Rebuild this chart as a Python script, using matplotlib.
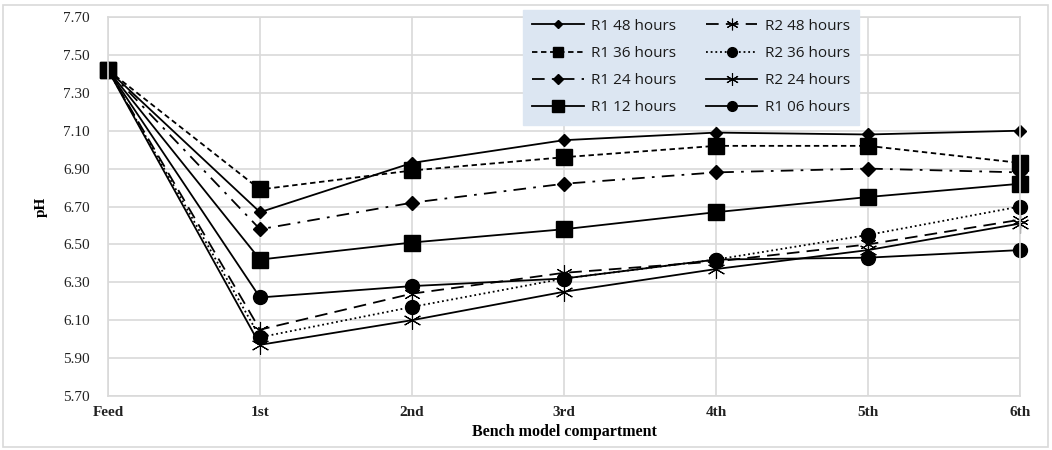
import matplotlib
matplotlib.use("Agg")
import matplotlib.pyplot as plt
from matplotlib.patches import Rectangle
import numpy as np

categories = ["Feed", "1st", "2nd", "3rd", "4th", "5th", "6th"]
r1_48 = [7.42, 6.67, 6.93, 7.05, 7.09, 7.08, 7.10]
r1_36 = [7.42, 6.79, 6.89, 6.96, 7.02, 7.02, 6.93]
r1_24 = [7.42, 6.58, 6.72, 6.82, 6.88, 6.90, 6.88]
r1_12 = [7.42, 6.42, 6.51, 6.58, 6.67, 6.75, 6.82]
r2_48 = [7.42, 6.05, 6.24, 6.35, 6.41, 6.50, 6.63]
r2_36 = [7.42, 6.01, 6.17, 6.32, 6.42, 6.55, 6.70]
r2_24 = [7.42, 5.97, 6.10, 6.25, 6.37, 6.47, 6.61]
r1_06 = [7.42, 6.22, 6.28, 6.32, 6.42, 6.43, 6.47]
yticks = [5.70, 5.90, 6.10, 6.30, 6.50, 6.70, 6.90, 7.10, 7.30, 7.50, 7.70]

fig = plt.figure(figsize=(10.52, 4.5), dpi=100)
ax = fig.add_axes([108/1052, 1-396/450, (1020-108)/1052, (396-17)/450])

x = np.arange(len(categories))
star = (6, 2, 0)
series = [
    ("R1 48 hours", r1_48, dict(linestyle="-", marker="D", markersize=6)),
    ("R1 36 hours", r1_36, dict(linestyle=(0, (3, 2)), marker="s", markersize=11)),
    ("R1 24 hours", r1_24, dict(linestyle=(0, (7, 4, 1.5, 4)), marker="D", markersize=7)),
    ("R1 12 hours", r1_12, dict(linestyle="-", marker="s", markersize=12)),
    ("R2 48 hours", r2_48, dict(linestyle=(0, (7, 4)), marker=star, markersize=12, markeredgewidth=0.8)),
    ("R2 36 hours", r2_36, dict(linestyle=(0, (1, 1.6)), marker="o", markersize=10)),
    ("R2 24 hours", r2_24, dict(linestyle="-", marker=star, markersize=13, markeredgewidth=0.8)),
    ("R1 06 hours", r1_06, dict(linestyle="-", marker="o", markersize=10)),
]
handles = {}
for name, vals, kw in series:
    h, = ax.plot(x, vals, color="black", linewidth=1.3, clip_on=False,
                 markerfacecolor="black", markeredgecolor="black", label=name, **kw)
    handles[name] = h

ax.set_xlim(0, 6)
ax.set_ylim(5.70, 7.70)
ax.set_xticks(x)
ax.set_xticklabels(categories, family="Liberation Serif", fontweight="bold", fontsize=11)
ax.set_yticks(yticks)
ax.set_yticklabels([f"{v:.2f}" for v in yticks], family="Liberation Serif", fontsize=11)
ax.tick_params(axis="y", length=0, pad=13, colors="#222222")
ax.tick_params(axis="x", length=0, pad=7, colors="#222222")
ax.grid(True, color="#d9d9d9", linewidth=1.2)
ax.set_axisbelow(True)
for s in ax.spines.values():
    s.set_color("#d9d9d9")
    s.set_linewidth(1.2)

ax.set_ylabel("pH", family="Liberation Serif", fontweight="bold", fontsize=11, labelpad=11)
ax.set_xlabel("Bench model compartment", family="Liberation Serif", fontweight="bold",
              fontsize=11.5, labelpad=4)

order = ["R1 48 hours", "R1 36 hours", "R1 24 hours", "R1 12 hours",
         "R2 48 hours", "R2 36 hours", "R2 24 hours", "R1 06 hours"]
leg = fig.legend([handles[n] for n in order], order, ncol=2, loc="upper left",
                 bbox_to_anchor=(515/1052, 1-2/450), bbox_transform=fig.transFigure,
                 prop={"family": "Open Sans", "size": 11}, frameon=True,
                 fancybox=False, handlelength=3.4, handletextpad=0.5,
                 columnspacing=1.9, labelspacing=0.8, borderpad=0.6,
                 markerscale=0.7)
leg.get_frame().set_facecolor("#dce6f2")
leg.get_frame().set_edgecolor("#dce6f2")
leg.get_frame().set_alpha(1)
for t in leg.get_texts():
    t.set_color("#1a1a1a")

fig.patches.append(Rectangle((3/1052, 3/450), 1-7/1052, 1-8/450, transform=fig.transFigure,
                             fill=False, edgecolor="#d9d9d9", linewidth=1.2))

fig.savefig("out.png", dpi=100)
